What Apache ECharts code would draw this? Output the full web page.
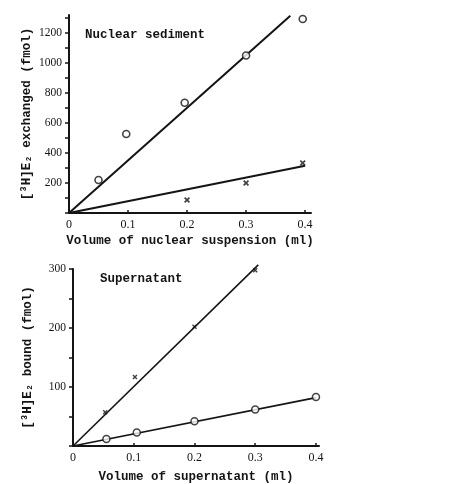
<!DOCTYPE html>
<html>
<head>
<meta charset="utf-8">
<script src="https://cdn.jsdelivr.net/npm/echarts@6/dist/echarts.min.js"></script>
<style>html,body{margin:0;padding:0;background:#fff;}#c{width:449px;height:484px;}</style>
</head>
<body>
<div id="c"></div>
<script>
// ---- Data: nuclear sediment (top panel) ----
var nucCircleX = [0.05, 0.097, 0.196, 0.3, 0.396];
var nucCircleY = [220, 527, 735, 1050, 1293];
var nucCrossX = [0.2, 0.3, 0.396];
var nucCrossY = [87, 200, 333];
var nucFitHighX = [0, 0.375];
var nucFitHighY = [0, 1315];
var nucFitLowX = [0, 0.4];
var nucFitLowY = [0, 315];
// ---- Data: supernatant (bottom panel) ----
var supCrossX = [0.053, 0.102, 0.2, 0.3];
var supCrossY = [57, 117, 202, 298];
var supCircleX = [0.055, 0.105, 0.2, 0.3, 0.4];
var supCircleY = [12, 23, 42, 62, 83];
var supFitHighX = [0, 0.305];
var supFitHighY = [0, 307];
var supFitLowX = [0, 0.4];
var supFitLowY = [0, 82];
// ---- Tick labels ----
var xTickLabels = [0, 0.1, 0.2, 0.3, 0.4];
var nucYLabels = [200, 400, 600, 800, 1000, 1200];
var nucYTicks = [0,100,200,300,400,500,600,700,800,900,1000,1100,1200,1300];
var supYLabels = [100, 200, 300];
var supYTicks = [0, 50, 100, 150, 200, 250, 300];

function zip(a, b) { return a.map(function (v, i) { return [v, b[i]]; }); }

var ink = '#141414';
var mono = '"Liberation Mono", "DejaVu Sans Mono", monospace';
var serif = '"Liberation Serif", "DejaVu Serif", serif';
var crossPath = 'path://M0,2L2,0L5,3L8,0L10,2L7,5L10,8L8,10L5,7L2,10L0,8L3,5Z';

function xAxisCfg(gi, max, name, gap) {
  return {
    type: 'value', gridIndex: gi, min: 0, max: max,
    name: name, nameLocation: 'middle', nameGap: gap,
    nameTextStyle: { fontFamily: mono, fontWeight: 'bold', fontSize: 12.5, color: ink },
    axisLine: { show: true, lineStyle: { color: ink, width: 2 } },
    axisTick: { show: true, inside: true, length: 3, customValues: xTickLabels, lineStyle: { color: ink, width: 1.5 } },
    axisLabel: { customValues: xTickLabels, fontFamily: serif, fontSize: 12, color: ink, margin: 6,
      formatter: function (v) { return v === 0 ? '0' : v.toFixed(1); } },
    splitLine: { show: false }
  };
}
function yAxisCfg(gi, max, ticks, labels, name, gap) {
  return {
    type: 'value', gridIndex: gi, min: 0, max: max,
    name: name, nameLocation: 'middle', nameGap: gap, nameRotate: 90, nameMoveOverlap: false,
    nameTextStyle: { fontFamily: mono, fontWeight: 'bold', fontSize: 12.5, color: ink },
    axisLine: { show: true, lineStyle: { color: ink, width: 2 } },
    axisTick: { show: true, inside: false, length: 4, customValues: ticks, lineStyle: { color: ink, width: 1.5 } },
    axisLabel: { customValues: labels, fontFamily: serif, fontSize: 11.5, color: ink, margin: 7,
      formatter: function (v) { return String(v); } },
    splitLine: { show: false }
  };
}

var chart = echarts.init(document.getElementById('c'));
chart.setOption({
  backgroundColor: '#fff',
  animation: false,
  title: [
    { text: 'Nuclear sediment', left: 80, top: 23,
      textStyle: { fontFamily: mono, fontWeight: 'bold', fontSize: 12.5, color: ink } },
    { text: 'Supernatant', left: 95, top: 267,
      textStyle: { fontFamily: mono, fontWeight: 'bold', fontSize: 12.5, color: ink } }
  ],
  grid: [
    { left: 69, top: 15, width: 242, height: 198 },
    { left: 73, top: 269, width: 246, height: 179 }
  ],
  xAxis: [
    xAxisCfg(0, 0.41, 'Volume of nuclear suspension (ml)', 21),
    xAxisCfg(1, 0.405, 'Volume of supernatant (ml)', 24)
  ],
  yAxis: [
    yAxisCfg(0, 1320, nucYTicks, nucYLabels, '[³H]E₂ exchanged (fmol)', 36),
    yAxisCfg(1, 300, supYTicks, supYLabels, '[³H]E₂ bound (fmol)', 39)
  ],
  series: [
    { type: 'line', xAxisIndex: 0, yAxisIndex: 0, data: zip(nucFitHighX, nucFitHighY), symbol: 'none', clip: false,
      lineStyle: { color: ink, width: 2 } },
    { type: 'line', xAxisIndex: 0, yAxisIndex: 0, data: zip(nucFitLowX, nucFitLowY), symbol: 'none', clip: false,
      lineStyle: { color: ink, width: 2 } },
    { type: 'scatter', xAxisIndex: 0, yAxisIndex: 0, data: zip(nucCircleX, nucCircleY), symbol: 'circle', symbolSize: 7,
      itemStyle: { color: '#fff', borderColor: ink, borderWidth: 1.6 }, z: 5 },
    { type: 'scatter', xAxisIndex: 0, yAxisIndex: 0, data: zip(nucCrossX, nucCrossY), symbol: crossPath, symbolSize: 6,
      itemStyle: { color: ink }, z: 5 },
    { type: 'line', xAxisIndex: 1, yAxisIndex: 1, data: zip(supFitHighX, supFitHighY), symbol: 'none', clip: false,
      lineStyle: { color: ink, width: 1.6 } },
    { type: 'line', xAxisIndex: 1, yAxisIndex: 1, data: zip(supFitLowX, supFitLowY), symbol: 'none', clip: false,
      lineStyle: { color: ink, width: 1.6 } },
    { type: 'scatter', xAxisIndex: 1, yAxisIndex: 1, data: zip(supCircleX, supCircleY), symbol: 'circle', symbolSize: 7,
      itemStyle: { color: '#fff', borderColor: ink, borderWidth: 1.5 }, z: 5 },
    { type: 'scatter', xAxisIndex: 1, yAxisIndex: 1, data: zip(supCrossX, supCrossY), symbol: crossPath, symbolSize: 5,
      itemStyle: { color: ink }, z: 5 }
  ]
});
</script>
</body>
</html>
